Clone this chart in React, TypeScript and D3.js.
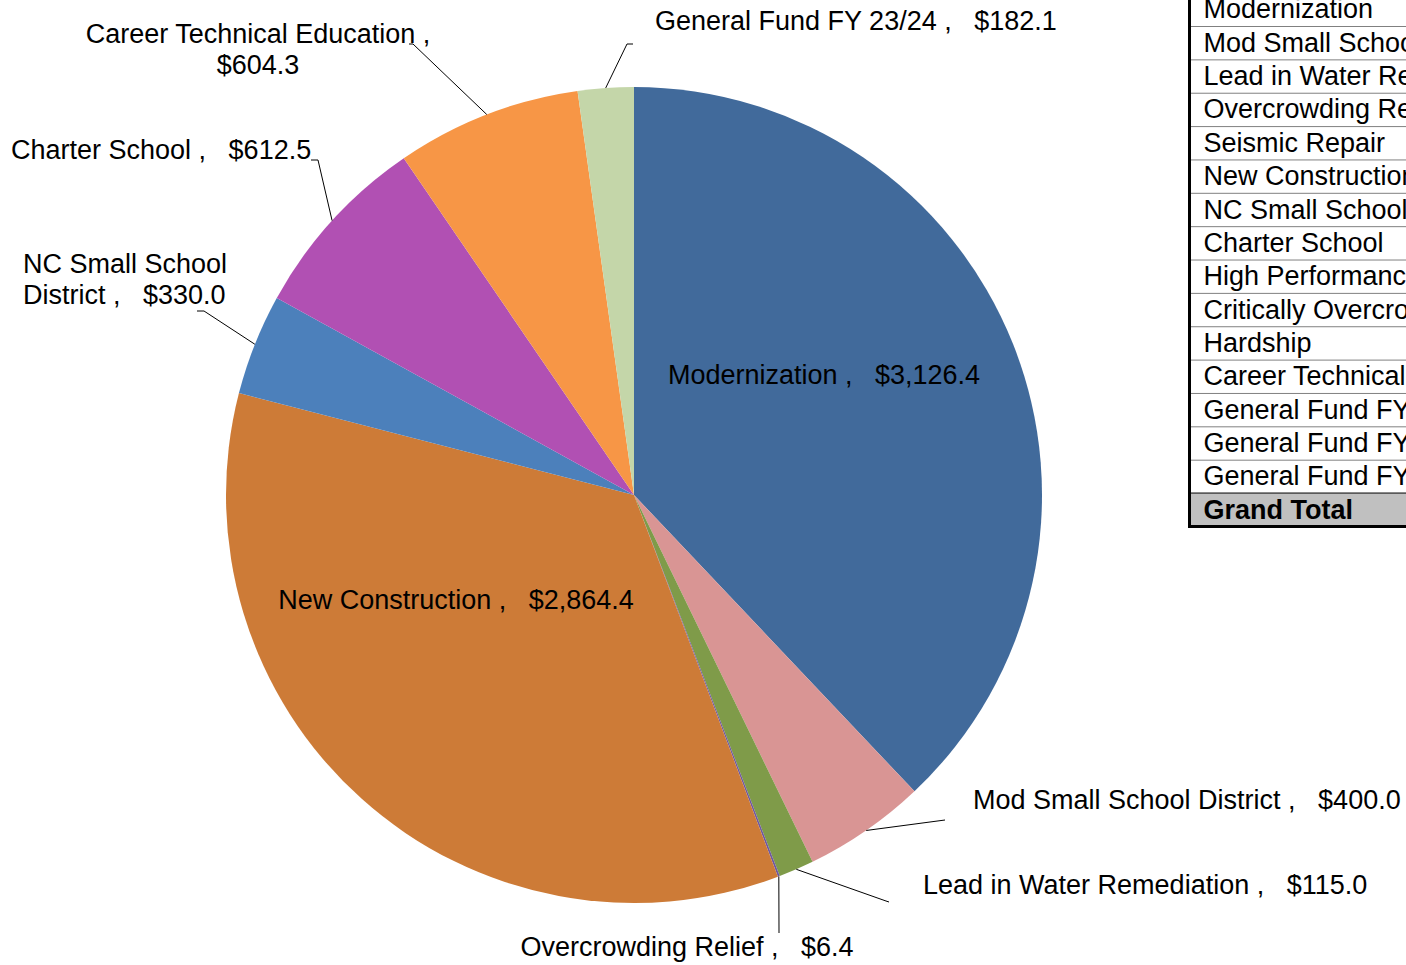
import React from "react";
import * as d3 from "d3";

const categories = [
  "Modernization",
  "Mod Small School District",
  "Lead in Water Remediation",
  "Overcrowding Relief",
  "Seismic Repair",
  "New Construction",
  "NC Small School District",
  "Charter School",
  "High Performance Incentive",
  "Critically Overcrowded Schools",
  "Hardship",
  "Career Technical Education",
  "General Fund FY 21/22",
  "General Fund FY 22/23",
  "General Fund FY 23/24",
];
const values = [3126.4, 400.0, 115.0, 6.4, 0, 2864.4, 330.0, 612.5, 0, 0, 0, 604.3, 0, 0, 182.1];
const colors = [
  "#416A9B", "#D99594", "#7F9B49", "#6E58A0", "#999999", "#CD7B37", "#4C80BB", "#B150B3",
  "#999999", "#999999", "#999999", "#F79646", "#aaaaaa", "#aaaaaa", "#C4D6A9",
];
const grandTotalLabel = "Grand Total";

// label layout: lines, anchor, x, baseline y, leader elbow points
type Lay = { lines: string[]; anchor: string; x: number; y: number; leader?: [number, number][] };
const labelLayout: Record<string, Lay> = {
  "Modernization": { lines: ["Modernization ,   $3,126.4"], anchor: "middle", x: 824, y: 384 },
  "New Construction": { lines: ["New Construction ,   $2,864.4"], anchor: "middle", x: 456, y: 609 },
  "Mod Small School District": { lines: ["Mod Small School District ,   $400.0"], anchor: "start", x: 973, y: 809, leader: [[945, 820]] },
  "Lead in Water Remediation": { lines: ["Lead in Water Remediation ,   $115.0"], anchor: "start", x: 923, y: 894, leader: [[886, 901], [889, 902]] },
  "Overcrowding Relief": { lines: ["Overcrowding Relief ,   $6.4"], anchor: "middle", x: 687, y: 956, leader: [[779, 933]] },
  "NC Small School District": { lines: ["NC Small School", "District ,   $330.0"], anchor: "start", x: 23, y: 273, leader: [[204, 311], [197, 311]] },
  "Charter School": { lines: ["Charter School ,   $612.5"], anchor: "start", x: 11, y: 159, leader: [[318, 160], [311, 160]] },
  "Career Technical Education": { lines: ["Career Technical Education ,", "$604.3"], anchor: "middle", x: 258, y: 43, leader: [[413, 44], [409, 44]] },
  "General Fund FY 23/24": { lines: ["General Fund FY 23/24 ,   $182.1"], anchor: "start", x: 655, y: 30, leader: [[627, 44], [633, 44]] },
};

export default function App() {
  const W = 1406, H = 965;
  const cx = 634, cy = 495, R = 408;
  const fs = 27;
  const data = categories.map((c, i) => ({ name: c, value: values[i], color: colors[i] }));
  const pie = d3.pie<any>().value((d) => d.value).sort(null);
  const arcs = pie(data);
  const arcGen = d3.arc<any>().innerRadius(0).outerRadius(R);
  const font = "'Liberation Sans', Arial, sans-serif";

  const rowH = 33.36;
  const tableTop = 26 - rowH;
  const tableX = 1188;
  const rows = [...categories, grandTotalLabel];

  return (
    <svg width={W} height={H} style={{ position: "absolute", left: 0, top: 0, background: "#fff" }} fontFamily={font}>
      <g transform={`translate(${cx},${cy})`}>
        {arcs.map((a, i) =>
          a.value > 0 ? <path key={i} d={arcGen(a) as string} fill={a.data.color} /> : null
        )}
      </g>
      {arcs.map((a, i) => {
        const lay = labelLayout[a.data.name];
        if (!lay || !lay.leader) return null;
        const mid = (a.startAngle + a.endAngle) / 2;
        const sx = cx + R * Math.sin(mid);
        const sy = cy - R * Math.cos(mid);
        const pts: [number, number][] = [[sx, sy], ...lay.leader];
        return <path key={"l" + i} d={d3.line()(pts) as string} fill="none" stroke="#000" strokeWidth={1} />;
      })}
      {arcs.map((a, i) => {
        const lay = labelLayout[a.data.name];
        if (!lay) return null;
        return (
          <text key={"t" + i} x={lay.x} y={lay.y} textAnchor={lay.anchor} fontSize={fs} fill="#000" style={{ whiteSpace: "pre" }}>
            {lay.lines.map((ln, j) => (
              <tspan key={j} x={lay.x} dy={j === 0 ? 0 : 31}>{ln}</tspan>
            ))}
          </text>
        );
      })}
      {/* table */}
      <g>
        {rows.map((r, i) => {
          const y0 = tableTop + i * rowH;
          const isTotal = i === rows.length - 1;
          return (
            <g key={"r" + i}>
              {isTotal && <rect x={tableX} y={y0} width={W - tableX} height={rowH} fill="#C0C0C0" />}
              <text x={1203.5} y={y0 + 25.7} fontSize={fs} fontWeight={isTotal ? "bold" : "normal"} fill="#000">{r}</text>
              {i > 0 && !isTotal && <line x1={tableX} x2={W} y1={y0 + 0.5} y2={y0 + 0.5} stroke="#808080" strokeWidth={1} />}
              {isTotal && <line x1={tableX} x2={W} y1={y0} y2={y0} stroke="#000" strokeWidth={1} />}
            </g>
          );
        })}
        <line x1={tableX + 1.5} x2={tableX + 1.5} y1={0} y2={tableTop + rows.length * rowH + 1.5} stroke="#000" strokeWidth={3} />
        <line x1={tableX} x2={W} y1={tableTop + rows.length * rowH} y2={tableTop + rows.length * rowH} stroke="#000" strokeWidth={3} />
      </g>
    </svg>
  );
}
